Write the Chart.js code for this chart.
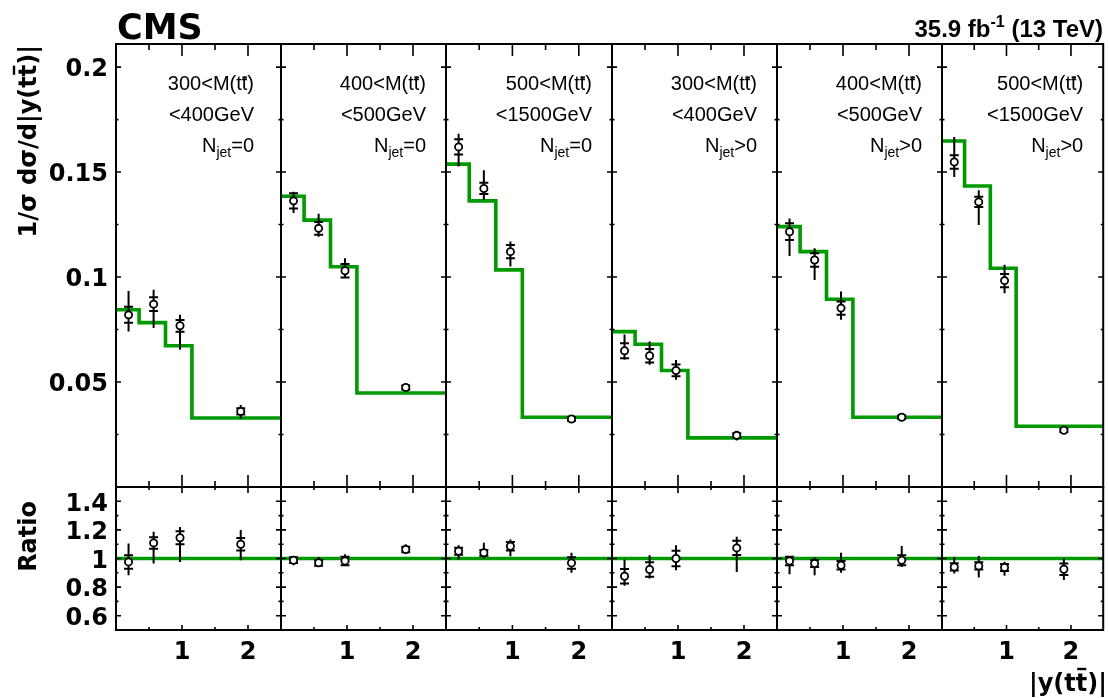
<!DOCTYPE html>
<html>
<head>
<meta charset="utf-8">
<script src="https://cdn.jsdelivr.net/npm/chart.js@4.4.1/dist/chart.umd.min.js"></script>
<style>
  html, body { margin: 0; padding: 0; background: #fff; }
  #wrap { position: relative; width: 1109px; height: 698px; overflow: hidden; background: #fff; }
  #wrap canvas { position: absolute; left: 0; top: 0; }
</style>
</head>
<body>
<div id="wrap"></div>
<script>
// |y(tt̄)| binning and the x positions of the measured points
const binEdges = [0, 0.35, 0.75, 1.15, 2.5];
const pointX = [0.19, 0.57, 0.97, 1.89];

// panel categories: M(tt̄) window and jet multiplicity
const massLow = ['300', '400', '500', '300', '400', '500'];
const massHigh = ['400', '500', '1500', '400', '500', '1500'];
const jetCut = ['=0', '=0', '=0', '>0', '>0', '>0'];

// predicted normalised cross section per bin (green histogram)
const predicted = [
  [0.0844, 0.0783, 0.0673, 0.0329],
  [0.1385, 0.1271, 0.1049, 0.0448],
  [0.1538, 0.1363, 0.1034, 0.0332],
  [0.0740, 0.0680, 0.0555, 0.0234],
  [0.1240, 0.1121, 0.0894, 0.0332],
  [0.1648, 0.1434, 0.1042, 0.0289]
];

// measured normalised cross section
const measured = [
  [0.0820, 0.0871, 0.0768, 0.0360],
  [0.1363, 0.1232, 0.1030, 0.0474],
  [0.1620, 0.1422, 0.1121, 0.0324],
  [0.0649, 0.0625, 0.0555, 0.0246],
  [0.1216, 0.1081, 0.0852, 0.0332],
  [0.1548, 0.1358, 0.0983, 0.0270]
];
const measErrUp = [
  [0.0114, 0.0068, 0.0052, 0.0030],
  [0.0043, 0.0070, 0.0059, 0.0015],
  [0.0063, 0.0087, 0.0048, 0.0012],
  [0.0077, 0.0068, 0.0050, 0.0012],
  [0.0063, 0.0056, 0.0079, 0.0012],
  [0.0119, 0.0055, 0.0075, 0.0012]
];
const measErrDown = [
  [0.0079, 0.0114, 0.0114, 0.0035],
  [0.0058, 0.0040, 0.0036, 0.0015],
  [0.0093, 0.0055, 0.0071, 0.0012],
  [0.0043, 0.0043, 0.0044, 0.0025],
  [0.0116, 0.0095, 0.0055, 0.0015],
  [0.0071, 0.0110, 0.0060, 0.0012]
];
const measStat = [
  [0.0038, 0.0033, 0.0028, 0.0015],
  [0.0036, 0.0030, 0.0032, 0.0010],
  [0.0036, 0.0027, 0.0032, 0.0008],
  [0.0036, 0.0032, 0.0028, 0.0010],
  [0.0040, 0.0032, 0.0032, 0.0008],
  [0.0032, 0.0024, 0.0032, 0.0008]
];

// measured / predicted
const ratio = [
  [0.976, 1.109, 1.145, 1.100],
  [0.988, 0.970, 0.983, 1.063],
  [1.051, 1.040, 1.086, 0.969],
  [0.876, 0.923, 1.000, 1.074],
  [0.983, 0.965, 0.953, 0.988],
  [0.941, 0.948, 0.937, 0.925]
];
const ratioErrUp = [
  [0.129, 0.078, 0.075, 0.100],
  [0.027, 0.040, 0.047, 0.037],
  [0.042, 0.070, 0.047, 0.071],
  [0.117, 0.100, 0.093, 0.078],
  [0.037, 0.042, 0.087, 0.100],
  [0.070, 0.070, 0.040, 0.075]
];
const ratioErrDown = [
  [0.093, 0.144, 0.169, 0.112],
  [0.035, 0.020, 0.033, 0.028],
  [0.058, 0.040, 0.070, 0.069],
  [0.066, 0.063, 0.082, 0.168],
  [0.093, 0.082, 0.053, 0.048],
  [0.046, 0.081, 0.057, 0.075]
];
const ratioStat = [
  [0.047, 0.040, 0.045, 0.044],
  [0.020, 0.020, 0.030, 0.020],
  [0.025, 0.020, 0.030, 0.040],
  [0.050, 0.050, 0.055, 0.050],
  [0.030, 0.025, 0.030, 0.035],
  [0.025, 0.025, 0.025, 0.040]
];

// axis tick labels
const upperTicks = [0.05, 0.1, 0.15, 0.2];
const ratioTicks = [0.6, 0.8, 1, 1.2, 1.4];
const xTicks = [1, 2];

// ---------------------------------------------------------------
const W = 1109, H = 698;
const colEdges = [116, 281, 446, 612, 777, 942, 1107];
const upperTop = 44, padSplit = 487, lowerBottom = 630;
const GREEN = '#009a00';
const TICK_FONT = { family: '"DejaVu Sans", sans-serif', size: 24, weight: 'bold' };
const wrap = document.getElementById('wrap');

// draws a run of text pieces (sub/superscripts, barred letters) as one line
function drawRich(ctx, segs, x, y, align) {
  let total = 0;
  segs.forEach(s => { ctx.font = s.font; s.w = ctx.measureText(s.t).width; total += s.w; });
  let cx = align === 'right' ? x - total : x;
  ctx.textAlign = 'left';
  ctx.textBaseline = 'alphabetic';
  ctx.fillStyle = '#000';
  segs.forEach(s => {
    ctx.font = s.font;
    const yy = y + (s.dy || 0);
    ctx.fillText(s.t, cx, yy);
    if (s.bar) {
      ctx.save();
      ctx.strokeStyle = '#000';
      ctx.lineWidth = s.barW || 2;
      ctx.beginPath();
      ctx.moveTo(cx + s.w * 0.12, yy - s.bar);
      ctx.lineTo(cx + s.w * 0.92, yy - s.bar);
      ctx.stroke();
      ctx.restore();
    }
    cx += s.w;
  });
}

function errorBarPlugin(vals, up, down, stat) {
  return {
    id: 'errorBars',
    beforeDatasetDraw(chart, args) {
      if (args.index !== 0) return;
      const ctx = chart.ctx, xs = chart.scales.x, ys = chart.scales.y;
      ctx.save();
      ctx.strokeStyle = '#000';
      ctx.lineWidth = 2;
      pointX.forEach((xv, i) => {
        const px = xs.getPixelForValue(xv);
        const v = vals[i];
        ctx.beginPath();
        ctx.moveTo(px, ys.getPixelForValue(v + up[i]));
        ctx.lineTo(px, ys.getPixelForValue(v - down[i]));
        [v + stat[i], v - stat[i]].forEach(c => {
          const py = ys.getPixelForValue(c);
          ctx.moveTo(px - 4.5, py);
          ctx.lineTo(px + 4.5, py);
        });
        ctx.stroke();
      });
      ctx.restore();
    }
  };
}

function framePlugin(lower) {
  return {
    id: 'frame',
    afterDatasetsDraw(chart) {
      const ctx = chart.ctx, xs = chart.scales.x, ys = chart.scales.y;
      const { left, right, top, bottom } = chart.chartArea;
      ctx.save();
      ctx.strokeStyle = '#000';
      ctx.lineWidth = 1.6;
      ctx.beginPath();
      // y ticks on both sides
      const yStep = lower ? 0.1 : 0.025;
      const yStart = lower ? 0.6 : 0.025;
      const yEnd = lower ? 1.4 : 0.2;
      for (let k = 0; yStart + k * yStep <= yEnd + 1e-9; k++) {
        const v = yStart + k * yStep;
        const major = lower ? (k % 2 === 0) : (k % 2 === 1);
        const len = major ? 5 : 2.5;
        const py = ys.getPixelForValue(v);
        ctx.moveTo(left, py); ctx.lineTo(left + len, py);
        ctx.moveTo(right, py); ctx.lineTo(right - len, py);
      }
      // x ticks top and bottom
      for (let k = 1; k <= 4; k++) {
        const v = k * 0.5;
        const major = k % 2 === 0;
        const px = xs.getPixelForValue(v);
        let lt, lb;
        if (lower) { lt = major ? 6 : 3; lb = major ? 5 : 3; }
        else { lt = major ? 12 : 6; lb = major ? 12 : 6; }
        ctx.moveTo(px, top); ctx.lineTo(px, top + lt);
        ctx.moveTo(px, bottom); ctx.lineTo(px, bottom - lb);
      }
      ctx.stroke();
      ctx.lineWidth = 2;
      ctx.strokeRect(left, top, right - left, bottom - top);
      ctx.restore();
    }
  };
}

function labelPlugin(col) {
  return {
    id: 'panelLabel',
    afterDraw(chart) {
      const ctx = chart.ctx;
      const xr = chart.chartArea.right - (col === 0 ? 27 : 20);
      const f = '20px "Liberation Sans", Arial, sans-serif';
      ctx.save();
      drawRich(ctx, [
        { t: massLow[col] + '<M(t', font: f },
        { t: 't', font: f, bar: 12, barW: 2.2 },
        { t: ')', font: f }
      ], xr, 89.5, 'right');
      drawRich(ctx, [{ t: '<' + massHigh[col] + 'GeV', font: f }], xr, 120.5, 'right');
      drawRich(ctx, [
        { t: 'N', font: f },
        { t: 'jet', font: '14px "Liberation Sans", Arial, sans-serif', dy: 5 },
        { t: jetCut[col], font: f }
      ], xr, 151.5, 'right');
      ctx.restore();
    }
  };
}

const textPlugin = {
  id: 'pageText',
  afterDraw(chart) {
    const ctx = chart.ctx;
    ctx.save();
    const bold24 = 'bold 24px "DejaVu Sans", sans-serif';
    // experiment label
    drawRich(ctx, [{ t: 'CMS', font: 'bold 35px "DejaVu Sans", sans-serif' }], 117, 39, 'left');
    // luminosity and energy
    const lf = 'bold 24px "Liberation Sans", Arial, sans-serif';
    drawRich(ctx, [
      { t: '35.9 fb', font: lf },
      { t: '-1', font: 'bold 16px "Liberation Sans", Arial, sans-serif', dy: -10 },
      { t: ' (13 TeV)', font: lf }
    ], 1103, 37, 'right');
    // x axis title
    drawRich(ctx, [
      { t: '|y(t', font: bold24 },
      { t: 't', font: bold24, bar: 22, barW: 2.4 },
      { t: ')|', font: bold24 }
    ], 1107, 691, 'right');
    // y axis titles
    ctx.save();
    ctx.translate(36, 45);
    ctx.rotate(-Math.PI / 2);
    drawRich(ctx, [
      { t: '1/σ dσ/d|y(t', font: bold24 },
      { t: 't', font: bold24, bar: 22, barW: 2.4 },
      { t: ')|', font: bold24 }
    ], 0, 0, 'right');
    ctx.restore();
    ctx.save();
    ctx.translate(35.5, 501);
    ctx.rotate(-Math.PI / 2);
    drawRich(ctx, [{ t: 'Ratio', font: bold24 }], 0, 0, 'right');
    ctx.restore();
    ctx.restore();
  }
};

function makeChart(col, lower) {
  const canvas = document.createElement('canvas');
  canvas.width = W; canvas.height = H;
  wrap.appendChild(canvas);
  const left = colEdges[col], right = colEdges[col + 1];
  const showY = col === 0;
  const vals = lower ? ratio[col] : measured[col];
  const points = pointX.map((x, i) => ({ x, y: vals[i] }));
  // histogram outline: one point per bin edge, last bin repeated to close the step
  const line = lower
    ? [{ x: 0, y: 1 }, { x: 2.5, y: 1 }]
    : binEdges.map((e, i) => ({ x: e, y: predicted[col][Math.min(i, predicted[col].length - 1)] }));

  const plugins = [
    errorBarPlugin(vals,
      lower ? ratioErrUp[col] : measErrUp[col],
      lower ? ratioErrDown[col] : measErrDown[col],
      lower ? ratioStat[col] : measStat[col]),
    framePlugin(lower)
  ];
  if (!lower) plugins.push(labelPlugin(col));
  if (!lower && col === 0) plugins.push(textPlugin);

  const xScale = {
    type: 'linear', min: 0, max: 2.5,
    display: lower,
    grid: { display: false, drawTicks: false },
    border: { display: false },
    afterBuildTicks: s => { s.ticks = xTicks.map(v => ({ value: v })); },
    ticks: {
      font: TICK_FONT, color: '#000', padding: 8,
      maxRotation: 0, autoSkip: false,
      callback: v => String(v)
    }
  };
  if (lower) xScale.afterFit = s => { s.height = H - lowerBottom; };

  const yScale = {
    type: 'linear',
    min: lower ? 0.5 : 0,
    max: lower ? 1.5 : 0.211,
    display: showY,
    grid: { display: false, drawTicks: false },
    border: { display: false },
    afterBuildTicks: s => { s.ticks = (lower ? ratioTicks : upperTicks).map(v => ({ value: v })); },
    ticks: {
      font: TICK_FONT, color: '#000', padding: 8,
      autoSkip: false, labelOffset: 3,
      callback: v => String(v)
    }
  };
  if (showY) yScale.afterFit = s => { s.width = colEdges[0]; };

  return new Chart(canvas, {
    type: 'line',
    data: {
      datasets: [
        {
          data: points,
          showLine: false,
          pointRadius: 3.6,
          pointBackgroundColor: '#fff',
          pointBorderColor: '#000',
          pointBorderWidth: 1.8
        },
        {
          data: line,
          stepped: 'before',
          borderColor: GREEN,
          borderWidth: 3.6,
          borderJoinStyle: 'miter',
          pointRadius: 0,
          fill: false,
          tension: 0
        }
      ]
    },
    options: {
      responsive: false,
      animation: false,
      events: [],
      devicePixelRatio: 1,
      layout: {
        padding: {
          left: showY ? 0 : left,
          right: W - right,
          top: lower ? padSplit : upperTop,
          bottom: lower ? 0 : H - padSplit
        }
      },
      plugins: { legend: { display: false }, tooltip: { enabled: false } },
      scales: { x: xScale, y: yScale }
    },
    plugins
  });
}

for (let c = 0; c < 6; c++) {
  makeChart(c, false);
  makeChart(c, true);
}
</script>
</body>
</html>
